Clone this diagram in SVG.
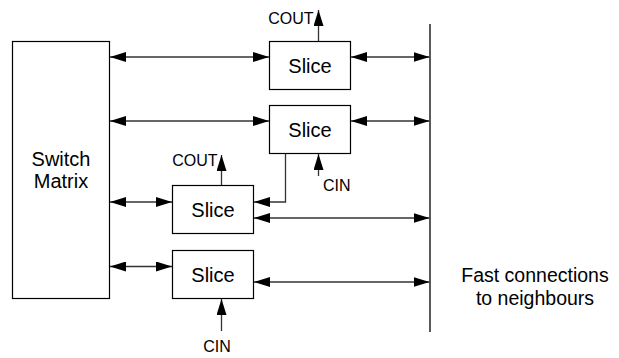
<svg xmlns="http://www.w3.org/2000/svg" width="619" height="358" viewBox="0 0 619 358">
<style>
.box{fill:#fff;stroke:#000;stroke-width:1.2}
.ln{fill:none;stroke:#333;stroke-width:1.3}
.t{font-family:"Liberation Sans",Arial,sans-serif;fill:#000}
.big{font-size:20px;text-anchor:middle}
.sm{font-size:16px}
</style>
<defs>
<marker id="ah" viewBox="0 0 16 10" refX="16" refY="5" markerWidth="16" markerHeight="10" markerUnits="userSpaceOnUse" orient="auto-start-reverse">
<path d="M0,0 L16,5 L0,10 Z" fill="#000"/>
</marker>
</defs>
<g id="switch-matrix">
<rect class="box" x="12.5" y="41.5" width="97" height="257"/>
<text class="t big" x="61" y="166">Switch</text>
<text class="t big" x="61" y="188">Matrix</text>
</g>
<g id="slice1">
<rect class="box" x="269.5" y="41.5" width="81" height="48"/>
<text class="t big" x="310" y="72.5">Slice</text>
</g>
<g id="slice2">
<rect class="box" x="269.5" y="105.5" width="81" height="48"/>
<text class="t big" x="310" y="136.5">Slice</text>
</g>
<g id="slice3">
<rect class="box" x="172.5" y="185.5" width="81" height="48"/>
<text class="t big" x="213" y="216.5">Slice</text>
</g>
<g id="slice4">
<rect class="box" x="172.5" y="250.5" width="81" height="48"/>
<text class="t big" x="213" y="281.5">Slice</text>
</g>
<g id="bus">
<line x1="430" y1="24" x2="430" y2="332" stroke="#000" stroke-width="1.3"/>
<text class="t" font-size="19.5" text-anchor="middle" x="535" y="282">Fast connections</text>
<text class="t" font-size="19.5" text-anchor="middle" x="535" y="305">to neighbours</text>
</g>
<g id="labels">
<text class="t sm" text-anchor="end" x="313.5" y="24">COUT</text>
<text class="t sm" text-anchor="end" x="217.5" y="166">COUT</text>
<text class="t sm" x="323" y="191">CIN</text>
<text class="t sm" text-anchor="middle" x="217" y="351.5">CIN</text>
</g>
<g id="connectors" class="ln">
<line x1="110" y1="57" x2="269" y2="57" marker-start="url(#ah)" marker-end="url(#ah)"/>
<line x1="351" y1="57" x2="429.5" y2="57" marker-start="url(#ah)" marker-end="url(#ah)"/>
<line x1="110" y1="121" x2="269" y2="121" marker-start="url(#ah)" marker-end="url(#ah)"/>
<line x1="351" y1="121" x2="429.5" y2="121" marker-start="url(#ah)" marker-end="url(#ah)"/>
<line x1="110" y1="202" x2="172" y2="202" marker-start="url(#ah)" marker-end="url(#ah)"/>
<polyline points="285.5,154 285.5,202 254,202" marker-end="url(#ah)"/>
<line x1="254" y1="218" x2="429.5" y2="218" marker-start="url(#ah)" marker-end="url(#ah)"/>
<line x1="110" y1="266.5" x2="172" y2="266.5" marker-start="url(#ah)" marker-end="url(#ah)"/>
<line x1="254" y1="282" x2="429.5" y2="282" marker-start="url(#ah)" marker-end="url(#ah)"/>
<line x1="318.5" y1="41" x2="318.5" y2="10" marker-end="url(#ah)"/>
<line x1="221.5" y1="185" x2="221.5" y2="155" marker-end="url(#ah)"/>
<line x1="318.5" y1="176" x2="318.5" y2="154" marker-end="url(#ah)"/>
<line x1="221.5" y1="331" x2="221.5" y2="299" marker-end="url(#ah)"/>
</g>
</svg>
